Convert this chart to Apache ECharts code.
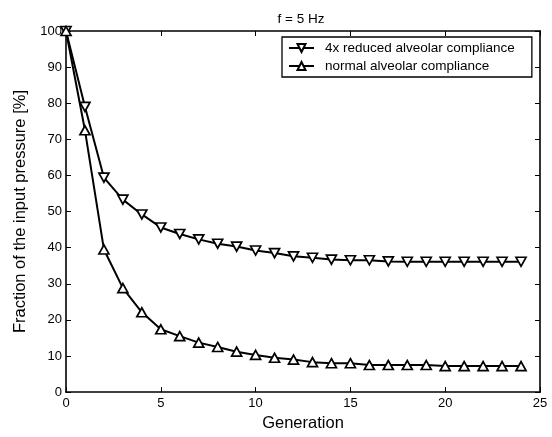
<!DOCTYPE html>
<html>
<head>
<meta charset="utf-8">
<script src="https://cdn.jsdelivr.net/npm/echarts@6/dist/echarts.min.js"></script>
<style>html,body{margin:0;padding:0;background:#fff}#c{width:552px;height:437px}</style>
</head>
<body>
<div id="c"></div>
<script>
const generations = [0,1,2,3,4,5,6,7,8,9,10,11,12,13,14,15,16,17,18,19,20,21,22,23,24];
const reducedCompliance = [100,79,59.4,53.3,49.2,45.6,43.8,42.3,41.1,40.3,39.2,38.5,37.6,37.2,36.7,36.5,36.5,36.2,36.1,36.1,36.1,36.1,36.1,36.1,36.1];
const normalCompliance = [100,72.5,39.5,28.8,22.1,17.4,15.5,13.7,12.5,11.2,10.3,9.5,9.0,8.3,8.0,8.0,7.5,7.5,7.5,7.5,7.2,7.2,7.2,7.2,7.2];
const seriesNames = ['4x reduced alveolar compliance','normal alveolar compliance'];
const xTicks = {min:0, max:25, interval:5};
const yTicks = {min:0, max:100, interval:10};

const font = 'Liberation Sans, Arial, sans-serif';
const chart = echarts.init(document.getElementById('c'));
const axisBase = {
  axisLine:{show:true, onZero:false, lineStyle:{color:'#000', width:1.6}},
  axisTick:{show:true, inside:true, length:5, lineStyle:{color:'#000', width:1}},
  splitLine:{show:false}
};
const pair = (xs, ys) => xs.map((x,i)=>[x, ys[i]]);
chart.setOption({
  backgroundColor:'#fff',
  animation:false,
  title:{text:'f = 5 Hz', left:296, top:7, textAlign:'center',
    textStyle:{fontFamily:font, fontSize:13.5, fontWeight:'normal', color:'#000'}},
  legend:{
    orient:'vertical', left:282, top:37,
    padding:[4,17,4,6], itemGap:4, itemWidth:25, itemHeight:10,
    backgroundColor:'#fff', borderColor:'#000', borderWidth:1.3, borderRadius:0,
    textStyle:{fontFamily:font, fontSize:13.5, color:'#000', padding:[0,0,0,6]},
    data:seriesNames
  },
  grid:{left:66, top:31, right:12, bottom:41, containLabel:false},
  xAxis:[
    Object.assign({type:'value', min:xTicks.min, max:xTicks.max, interval:xTicks.interval,
      position:'bottom', name:'Generation', nameLocation:'middle', nameGap:14,
      nameTextStyle:{fontFamily:font, fontSize:16.5, color:'#000'},
      axisLabel:{fontFamily:font, fontSize:13, color:'#000', margin:5}}, axisBase),
    Object.assign({type:'value', min:xTicks.min, max:xTicks.max, interval:xTicks.interval,
      position:'top', axisLabel:{show:false}}, axisBase)
  ],
  yAxis:[
    Object.assign({type:'value', min:yTicks.min, max:yTicks.max, interval:yTicks.interval,
      position:'left', name:'Fraction of the input pressure [%]', nameLocation:'middle', nameGap:37,
      nameTextStyle:{fontFamily:font, fontSize:16.5, color:'#000'},
      axisLabel:{fontFamily:font, fontSize:13, color:'#000', margin:4}}, axisBase),
    Object.assign({type:'value', min:yTicks.min, max:yTicks.max, interval:yTicks.interval,
      position:'right', axisLabel:{show:false}}, axisBase)
  ],
  series:[
    {name:seriesNames[0], type:'line', data:pair(generations, reducedCompliance),
      symbol:'path://M0,0 L10,0 L5,9 Z', symbolSize:[10,9], showAllSymbol:true,
      lineStyle:{color:'#000', width:2},
      itemStyle:{color:'#fff', borderColor:'#000', borderWidth:1.7}},
    {name:seriesNames[1], type:'line', data:pair(generations, normalCompliance),
      symbol:'path://M5,0 L10,9 L0,9 Z', symbolSize:[10,9], showAllSymbol:true,
      lineStyle:{color:'#000', width:2},
      itemStyle:{color:'#fff', borderColor:'#000', borderWidth:1.7}}
  ]
});
</script>
</body>
</html>
